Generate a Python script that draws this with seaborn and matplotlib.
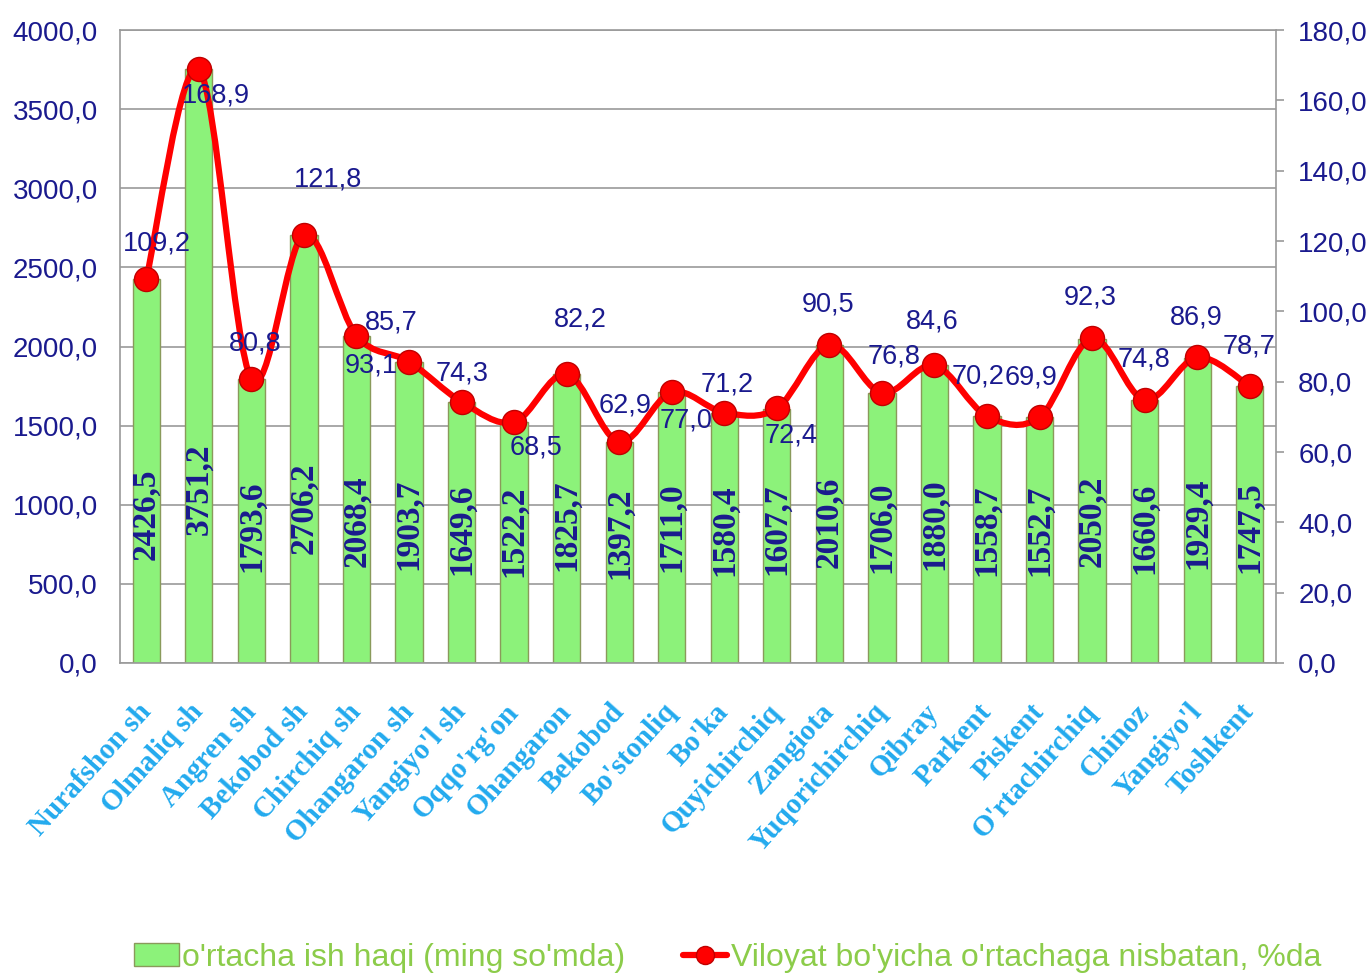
import numpy as np
import pandas as pd
import seaborn as sns
import matplotlib.pyplot as plt
from matplotlib.path import Path
from matplotlib.patches import PathPatch, Patch
from matplotlib.lines import Line2D

sns.set_theme(style="white")
plt.rcParams['font.family'] = ['Liberation Sans', 'DejaVu Sans']

districts = ["Nurafshon sh", "Olmaliq sh", "Angren sh", "Bekobod sh", "Chirchiq sh",
             "Ohangaron sh", "Yangiyo'l sh", "Oqqo'rg'on", "Ohangaron", "Bekobod",
             "Bo'stonliq", "Bo'ka", "Quyichirchiq", "Zangiota", "Yuqorichirchiq",
             "Qibray", "Parkent", "Piskent", "O'rtachirchiq", "Chinoz", "Yangiyo'l",
             "Toshkent"]
wage = [2426.5, 3751.2, 1793.6, 2706.2, 2068.4, 1903.7, 1649.6, 1522.2, 1825.7,
        1397.2, 1711.0, 1580.4, 1607.7, 2010.6, 1706.0, 1880.0, 1558.7, 1552.7,
        2050.2, 1660.6, 1929.4, 1747.5]
pct = [109.2, 168.9, 80.8, 121.8, 93.1, 85.7, 74.3, 68.5, 82.2, 62.9, 77.0, 71.2,
       72.4, 90.5, 76.8, 84.6, 70.2, 69.9, 92.3, 74.8, 86.9, 78.7]

# label offsets for the percent labels (pixels: dx, dy up)
pct_off = [(11, 35), (17, -26), (4, 35), (24, 55), (15, -30), (-18, 39), (1, 28),
           (22, -25), (14, 54), (6, 36), (14, -28), (3, 28), (14, -27), (-1, 40),
           (12, 36), (-2, 44), (-9, 40), (-9, 40), (-2, 41), (-1, 40), (-1, 40), (-1, 40)]

navy = "#1a1a8e"
green = "#8cf27a"
cyan = "#22aaee"

df = pd.DataFrame({"district": districts, "wage": wage, "pct": pct})

fig = plt.figure(figsize=(13.7, 9.8), dpi=100)
ax = fig.add_axes([120 / 1370, 1 - 663 / 980, (1276 - 120) / 1370, (663 - 30) / 980])

sns.barplot(data=df, x="district", y="wage", color=green, saturation=1, width=0.52,
            edgecolor="#8a9a5b", linewidth=1, ax=ax)
ax.set_ylim(0, 4000)
ax.set_xlim(-0.5, len(districts) - 0.5)
ax.set_yticks(np.arange(0, 4001, 500))
ax.set_yticklabels([f"{v:.1f}".replace(".", ",") for v in np.arange(0, 4001, 500)],
                   color=navy, fontsize=20)
ax.yaxis.grid(True, color="#9a9a9a", linewidth=1.2)
ax.set_axisbelow(True)
ax.set_xlabel("")
ax.set_ylabel("")
for s in ax.spines.values():
    s.set_color("#9a9a9a")
    s.set_linewidth(1.2)

ax.set_xticks(range(len(districts)))
ax.set_xticklabels(districts, rotation=48, rotation_mode="anchor", ha="right", va="center",
                   color=cyan, fontsize=21, fontweight="bold", family="Liberation Serif")
ax.tick_params(axis="x", length=0, pad=32)
ax.tick_params(axis="y", length=0, pad=16)

for i, v in enumerate(wage):
    ax.text(i, 650 + 0.12 * v, f"{v:.1f}".replace(".", ","), rotation=90, ha="center",
            va="center", color=navy, fontsize=24, fontweight="bold", family="Liberation Serif")

ax2 = ax.twinx()
ax2.set_ylim(0, 180)
ax2.set_yticks(np.arange(0, 181, 20))
ax2.set_yticklabels([f"{v:.1f}".replace(".", ",") for v in np.arange(0, 181, 20)],
                    color=navy, fontsize=20)
ax2.tick_params(axis="y", length=6, color="#9a9a9a", width=1.2, pad=10)
for s in ax2.spines.values():
    s.set_visible(False)
ax2.grid(False)

# smoothed line (Catmull-Rom style bezier through the points)
xs = np.arange(len(pct), dtype=float)
ys = np.array(pct, dtype=float)
verts = [(xs[0], ys[0])]
codes = [Path.MOVETO]
n = len(xs)
for i in range(n - 1):
    p0 = np.array([xs[max(i - 1, 0)], ys[max(i - 1, 0)]])
    p1 = np.array([xs[i], ys[i]])
    p2 = np.array([xs[i + 1], ys[i + 1]])
    p3 = np.array([xs[min(i + 2, n - 1)], ys[min(i + 2, n - 1)]])
    c1 = p1 + (p2 - p0) / 6
    c2 = p2 - (p3 - p1) / 6
    verts += [tuple(c1), tuple(c2), tuple(p2)]
    codes += [Path.CURVE4] * 3
ax2.add_patch(PathPatch(Path(verts, codes), fill=False, edgecolor="red", lw=4.5, zorder=3))
sns.scatterplot(x=xs, y=ys, s=300, color="red", edgecolor="#c00000", linewidth=1,
                zorder=4, ax=ax2)

for i, v in enumerate(pct):
    dx, dy = pct_off[i]
    ax2.annotate(f"{v:.1f}".replace(".", ","), (i, v), xytext=(dx * 0.72, dy * 0.72),
                 textcoords="offset points", ha="center", va="center", color=navy,
                 fontsize=19.5, zorder=5)

handles = [Patch(facecolor=green, edgecolor="#8a9a5b"),
           Line2D([0], [0], color="red", lw=4.5, marker="o", markersize=13,
                  markerfacecolor="red", markeredgecolor="#c00000")]
labels = ["o'rtacha ish haqi (ming so'mda)", "Viloyat bo'yicha o'rtachaga nisbatan, %da"]
fig.legend(handles, labels, loc="lower center", bbox_to_anchor=(0.531, -0.022), ncol=2,
           frameon=False, fontsize=23, labelcolor="#8ccc4a", handlelength=1.4,
           handletextpad=0.1, columnspacing=1.8)

fig.savefig("out.png", dpi=100)
